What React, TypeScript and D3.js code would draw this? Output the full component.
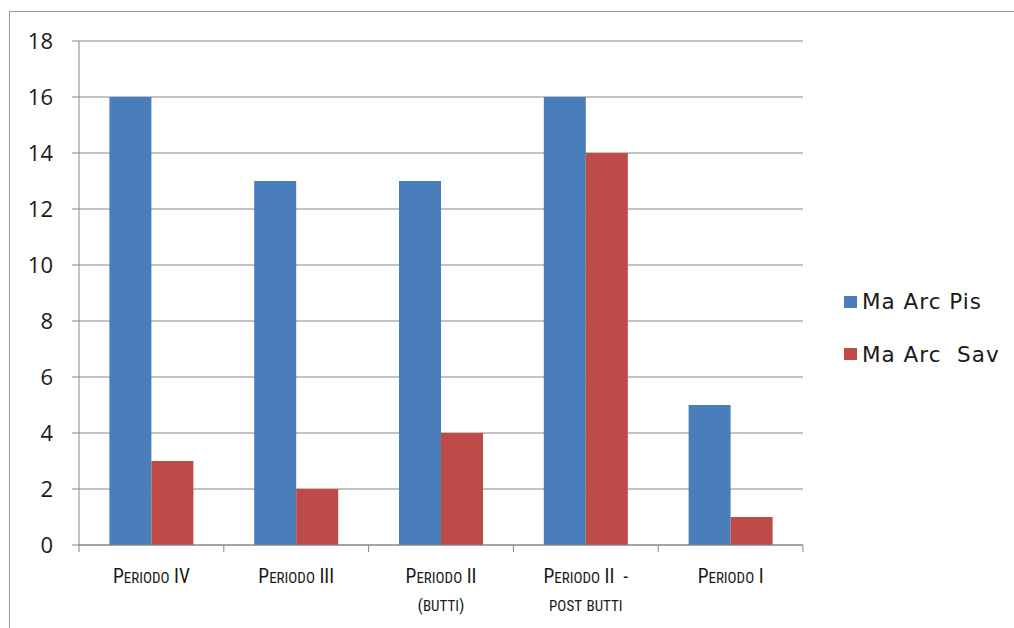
import React from "react";
import * as d3 from "d3";

const categories: string[][] = [
  ["Periodo IV"],
  ["Periodo III"],
  ["Periodo II", "(butti)"],
  ["Periodo II  -", "post butti"],
  ["Periodo I"],
];
const seriesNames = ["Ma Arc Pis", "Ma Arc  Sav"];
const pisValues = [16, 13, 13, 16, 5];
const savValues = [3, 2, 4, 14, 1];
const yTicks = [0, 2, 4, 6, 8, 10, 12, 14, 16, 18];
const colors = ["#4A7EBB", "#BE4B48"];

function smallCaps(s: string, big: number, small: number) {
  const parts: { t: string; size: number }[] = [];
  for (const ch of s) {
    const isLower = ch !== ch.toUpperCase();
    const isSpecial = /[()]/.test(ch);
    const size = isLower ? small : isSpecial ? small + 2 : big;
    const t = ch.toUpperCase();
    if (parts.length && parts[parts.length - 1].size === size) parts[parts.length - 1].t += t;
    else parts.push({ t, size });
  }
  return parts;
}

export default function App() {
  const W = 1014, H = 628;
  const left = 79, right = 803, top = 41, bottom = 545;
  const x = d3.scaleBand<number>().domain(d3.range(categories.length)).range([left, right]).paddingInner(0).paddingOuter(0);
  const y = d3.scaleLinear().domain([0, 18]).range([bottom, top]);
  const bw = 42;
  const series = [pisValues, savValues];
  const gridColor = "#868686";
  const labelFont = "'Liberation Sans Narrow', 'Arial Narrow', 'Roboto Condensed', 'Liberation Sans', sans-serif";
  return (
    <svg width={W} height={H} style={{ position: "absolute", left: 0, top: 0, background: "#fff" }}>
      <rect x={9.5} y={11.5} width={W + 10} height={H + 10} fill="#fff" stroke="#9a9a9a" strokeWidth={1} />
      {yTicks.map((t) => (
        <g key={t}>
          <line x1={left - 7} x2={right} y1={y(t)} y2={y(t)} stroke={gridColor} strokeWidth={1} />
          <text x={53} y={y(t) + 8} textAnchor="end" fontFamily="'Open Sans', 'Noto Sans', sans-serif" fontSize={22} fill="#1a1a1a">{t}</text>
        </g>
      ))}
      <line x1={left} x2={left} y1={top} y2={bottom} stroke={gridColor} strokeWidth={1} />
      {series.map((vals, si) =>
        vals.map((v, i) => {
          const cx = (x(i) as number) + x.bandwidth() / 2;
          const bx = cx - bw + si * bw;
          return <rect key={`${si}-${i}`} x={bx} y={y(v)} width={bw} height={bottom - y(v)} fill={colors[si]} />;
        })
      )}
      <line x1={left} x2={right} y1={bottom} y2={bottom} stroke={gridColor} strokeWidth={1} />
      {d3.range(categories.length + 1).map((i) => {
        const xx = left + i * x.bandwidth();
        return <line key={i} x1={xx} x2={xx} y1={bottom} y2={bottom + 7} stroke={gridColor} strokeWidth={1} />;
      })}
      {categories.map((lines, i) => {
        const cx = (x(i) as number) + x.bandwidth() / 2;
        return lines.map((l, j) => (
          <text key={`${i}-${j}`} x={cx} y={583 + j * 28} textAnchor="middle" fontFamily={labelFont} fill="#1a1a1a" style={{ whiteSpace: "pre" }}>
            {smallCaps(l, 19.5, 15).map((p, k) => (
              <tspan key={k} fontSize={p.size}>{p.t}</tspan>
            ))}
          </text>
        ));
      })}
      {seriesNames.map((n, i) => (
        <g key={n}>
          <rect x={844} y={296 + i * 52} width={13} height={12} fill={colors[i]} />
          <text x={862} y={309 + i * 53} fontFamily="'DejaVu Sans', sans-serif" fontSize={21.5} letterSpacing={1} fill="#1a1a1a" style={{ whiteSpace: "pre" }}>{n}</text>
        </g>
      ))}
    </svg>
  );
}
